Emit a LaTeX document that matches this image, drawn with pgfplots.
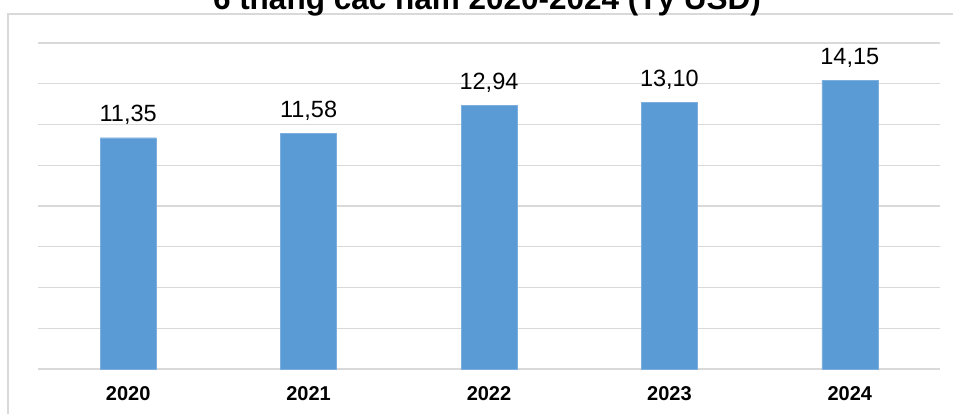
\documentclass[border=0pt]{standalone}
\usepackage{pgfplots}
\pgfplotsset{compat=1.18}
\usepackage{fontspec}
\setmainfont{Liberation Sans}
\definecolor{barblue}{HTML}{5B9BD5}
\definecolor{gridgray}{HTML}{D9D9D9}
\begin{document}
\begin{tikzpicture}
  \begin{axis}[
      at={(38bp,45bp)}, anchor=south west,
      scale only axis, width=902bp, height=326bp,
      xmin=-0.5, xmax=4.5, ymin=0, ymax=16,
      ytick={0,2,...,16}, yticklabels={},
      xtick=data, xticklabels={2020,2021,2022,2023,2024},
      xticklabel style={font=\fontsize{20bp}{24bp}\selectfont\bfseries,
        anchor=base, yshift=-32bp, inner sep=0pt},
      ymajorgrids, grid style={gridgray, line width=1.4bp},
      axis line style={draw=none}, tick style={draw=none},
      clip=false,
    ]
    \addplot[ybar, bar width=56bp, fill=barblue, draw=barblue!80!white,
      point meta=explicit symbolic, nodes near coords,
      nodes near coords style={anchor=base, yshift=16bp, inner sep=0pt,
        font=\fontsize{23.5bp}{28bp}\selectfont}]
      coordinates {(0,11.35)[11,35] (1,11.58)[11,58] (2,12.94)[12,94]
                   (3,13.10)[13,10] (4,14.15)[14,15]};
  \end{axis}
  % chart area frame
  \draw[gridgray, line width=1.2bp] (8bp,0bp) -- (8bp,400bp) -- (953bp,400bp);
  % title, cut by the top edge
  \node[anchor=base, inner sep=0pt, font=\fontsize{31.5bp}{36bp}\selectfont\bfseries]
    at (487bp,404.5bp) {6 tháng các năm 2020-2024 (Tỷ USD)};
  \pgfresetboundingbox
  \path[use as bounding box] (0bp,0bp) rectangle (953bp,414bp);
\end{tikzpicture}
\end{document}
